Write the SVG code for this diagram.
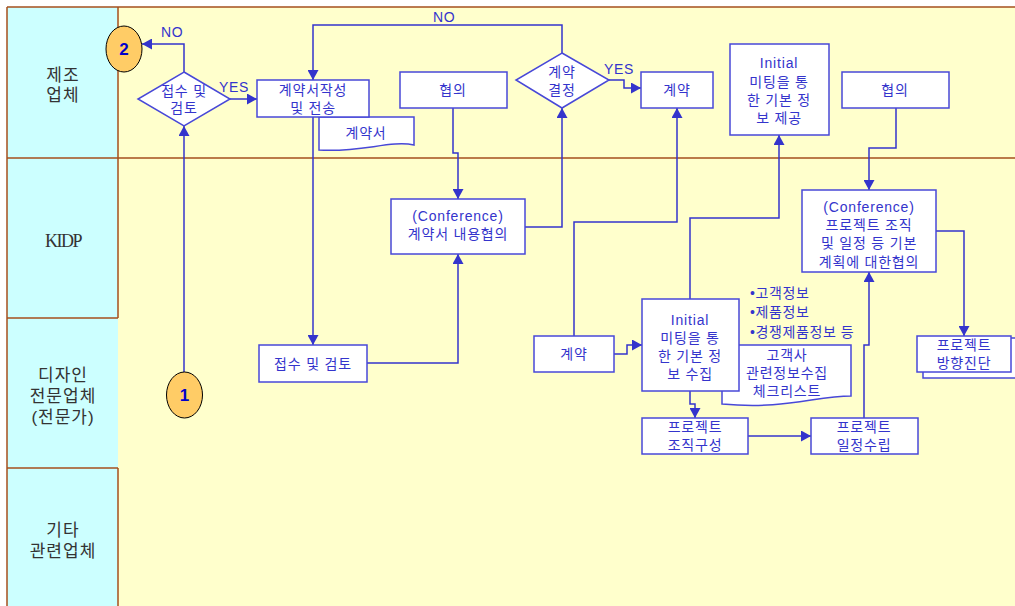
<svg xmlns="http://www.w3.org/2000/svg" width="1015" height="606" viewBox="0 0 1015 606">
<style>
.lane{stroke:#A5501E;stroke-width:1.5;fill:none}
.lbl{font-family:"Liberation Sans","Noto Sans CJK KR",sans-serif;font-size:17px;fill:#333;text-anchor:middle;letter-spacing:1px}
.box{fill:#fff;stroke:#4848D8;stroke-width:1.5}
.t{font-family:"Liberation Sans","Noto Sans CJK KR",sans-serif;font-size:14px;fill:#3434CC;text-anchor:middle;letter-spacing:0.8px}
.tl{font-family:"Liberation Sans","Noto Sans CJK KR",sans-serif;font-size:14px;fill:#3434CC;letter-spacing:0.6px}
.c{fill:none;stroke:#3434CC;stroke-width:1.5;marker-end:url(#ah)}
.circ{fill:#FFCC66;stroke:#000;stroke-width:1}
.num{font-family:"Liberation Sans",sans-serif;font-size:17px;font-weight:bold;fill:#0000CC;text-anchor:middle}
</style>
<defs>
<marker id="ah" markerUnits="userSpaceOnUse" markerWidth="11" markerHeight="11" refX="10" refY="5.5" orient="auto">
<path d="M0,0 L10,5.5 L0,11 Z" fill="#3434CC"/>
</marker>
</defs>
<rect x="0" y="0" width="1015" height="606" fill="#fff"/>
<g id="lanes">
<rect x="7" y="7" width="111" height="599" fill="#CCFFFF"/>
<rect x="118" y="7" width="897" height="599" fill="#FFFFCC"/>
<path class="lane" d="M7,7 H1015 M7,7 V606 M7,158 H1015 M118,7 V318 M7,318 H118 M7,468 H118 M118,468 V606"/>
<text class="lbl" x="63" y="81">제조</text>
<text class="lbl" x="63" y="101">업체</text>
<text x="63" y="247" font-family="Liberation Serif,serif" font-size="18" fill="#333" text-anchor="middle" letter-spacing="-1.5">KIDP</text>
<text class="lbl" x="63" y="381">디자인</text>
<text class="lbl" x="63" y="402">전문업체</text>
<text class="lbl" x="63" y="423">(전문가)</text>
<text class="lbl" x="63" y="536">기타</text>
<text class="lbl" x="63" y="557">관련업체</text>
</g>
<g id="connectors">
<path class="c" d="M184,72 V44 H142"/>
<path class="c" d="M230,99 H257"/>
<path class="c" d="M184,372 V126"/>
<path class="c" d="M562,53 V25 H313 V80"/>
<path class="c" d="M313,117 V345"/>
<path class="c" d="M367,363 H458 V254"/>
<path class="c" d="M453,108 V153 H458 V199"/>
<path class="c" d="M525,227 H562 V108"/>
<path class="c" d="M609,80 H624 V88 H641"/>
<path class="c" d="M574,336 V222 H677 V108"/>
<path class="c" d="M614,354 H627 V345 H642"/>
<path class="c" d="M690,299 V218 H779 V135"/>
<path class="c" d="M896,108 V148 H869 V190"/>
<path class="c" d="M936,231 H964 V336"/>
<path class="c" d="M690,391 V404 H695 V418"/>
<path class="c" d="M748,436 H811"/>
<path class="c" d="M864,418 V345 H869 V272"/>
<text class="tl" x="161" y="37">NO</text>
<text class="tl" x="219" y="92">YES</text>
<text class="tl" x="433" y="22">NO</text>
<text class="tl" x="604" y="74">YES</text>
</g>
<g id="circle2">
<ellipse class="circ" cx="124" cy="49" rx="18" ry="23"/>
<text class="num" x="124" y="55">2</text>
</g>
<g id="circle1">
<ellipse class="circ" cx="184.5" cy="395" rx="18" ry="23"/>
<text class="num" x="184.5" y="401">1</text>
</g>
<g id="decision1">
<path class="box" d="M184,72 L230,99 L184,126 L138,99 Z"/>
<text class="t" x="184" y="96">접수 및</text>
<text class="t" x="184" y="113">검토</text>
</g>
<g id="contractDoc">
<path class="box" d="M319,117 H414 V145 C390,140 360,153 319,150 Z"/>
<text class="t" x="366" y="138">계약서</text>
</g>
<g id="writeContract">
<rect class="box" x="257" y="80" width="112" height="37"/>
<text class="t" x="313" y="95">계약서작성</text>
<text class="t" x="313" y="113">및 전송</text>
</g>
<g id="receiveReview">
<rect class="box" x="259" y="345" width="108" height="37"/>
<text class="t" x="313" y="369">접수 및 검토</text>
</g>
<g id="consult1">
<rect class="box" x="400" y="72" width="107" height="36"/>
<text class="t" x="453" y="95">협의</text>
</g>
<g id="conference1">
<rect class="box" x="391" y="199" width="134" height="55"/>
<text class="t" x="458" y="221">(Conference)</text>
<text class="t" x="458" y="239">계약서 내용협의</text>
</g>
<g id="decision2">
<path class="box" d="M562,53 L609,80 L562,108 L516,80 Z"/>
<text class="t" x="562" y="77">계약</text>
<text class="t" x="562" y="95">결정</text>
</g>
<g id="contractTop">
<rect class="box" x="641" y="72" width="72" height="36"/>
<text class="t" x="677" y="95">계약</text>
</g>
<g id="contractBottom">
<rect class="box" x="534" y="336" width="80" height="36"/>
<text class="t" x="574" y="359">계약</text>
</g>
<g id="initialTop">
<rect class="box" x="730" y="44" width="99" height="91"/>
<text class="t" x="779" y="68">Initial</text>
<text class="t" x="779" y="87">미팅을 통</text>
<text class="t" x="779" y="105">한 기본 정</text>
<text class="t" x="779" y="123">보 제공</text>
</g>
<g id="consult2">
<rect class="box" x="842" y="72" width="107" height="36"/>
<text class="t" x="895" y="95">협의</text>
</g>
<g id="conference2">
<rect class="box" x="802" y="190" width="134" height="82"/>
<text class="t" x="869" y="212">(Conference)</text>
<text class="t" x="869" y="230">프로젝트 조직</text>
<text class="t" x="869" y="248">및 일정 등 기본</text>
<text class="t" x="869" y="267">계획에 대한협의</text>
</g>
<g id="infoList">
<text class="tl" x="750" y="298">•고객정보</text>
<text class="tl" x="750" y="317">•제품정보</text>
<text class="tl" x="750" y="337">•경쟁제품정보 등</text>
</g>
<g id="checklistDoc">
<path class="box" d="M722,345 H851 V396 C815,396 785,410 722,404 Z"/>
<text class="t" x="787" y="360">고객사</text>
<text class="t" x="787" y="378">관련정보수집</text>
<text class="t" x="787" y="396">체크리스트</text>
</g>
<g id="initialBottom">
<rect class="box" x="642" y="299" width="97" height="92"/>
<text class="t" x="690" y="325">Initial</text>
<text class="t" x="690" y="343">미팅을 통</text>
<text class="t" x="690" y="361">한 기본 정</text>
<text class="t" x="690" y="379">보 수집</text>
</g>
<g id="orgSetup">
<rect class="box" x="642" y="418" width="106" height="36"/>
<text class="t" x="695" y="432">프로젝트</text>
<text class="t" x="695" y="450">조직구성</text>
</g>
<g id="schedule">
<rect class="box" x="811" y="418" width="107" height="36"/>
<text class="t" x="864" y="432">프로젝트</text>
<text class="t" x="864" y="450">일정수립</text>
</g>
<g id="direction">
<rect class="box" x="923" y="338" width="100" height="40"/>
<rect class="box" x="917" y="336" width="94" height="36"/>
<text class="t" x="964" y="350">프로젝트</text>
<text class="t" x="964" y="368">방향진단</text>
</g>
</svg>
